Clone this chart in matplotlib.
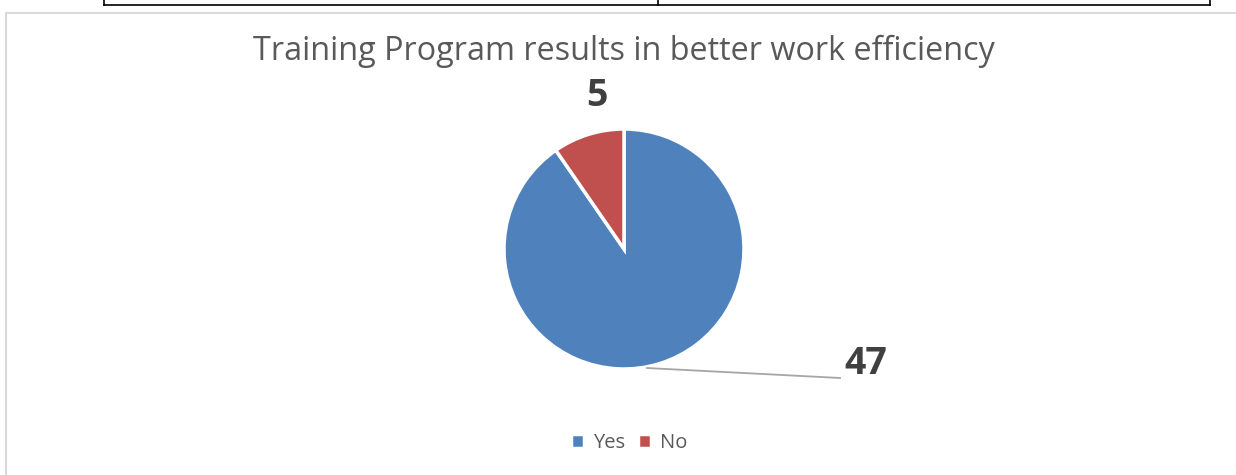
import matplotlib.pyplot as plt
from matplotlib.lines import Line2D

labels = ['Yes', 'No']
counts = [47, 5]
colors = ['#4f81bd', '#c0504d']

W, H = 1236, 475
fig = plt.figure(figsize=(W / 100, H / 100), dpi=100)

# table border fragment above the chart
def px_line(xs, ys, **kw):
    fig.add_artist(Line2D([x / W for x in xs], [1 - y / H for y in ys],
                          transform=fig.transFigure, **kw))

px_line([104, 1210], [5, 5], color='black', lw=1.2)
px_line([104, 104], [0, 5], color='black', lw=1.2)
px_line([658, 658], [0, 5], color='black', lw=1.2)
px_line([1210, 1210], [0, 5], color='black', lw=1.2)

# chart area border
px_line([6, 1236], [13, 13], color='#d9d9d9', lw=1.5)
px_line([6, 6], [13, 475], color='#d9d9d9', lw=1.5)

# pie: centre (624, 249), radius 120 px
r = 120
ax = fig.add_axes([(624 - r) / W, 1 - (249 + r) / H, 2 * r / W, 2 * r / H])
wedges, _ = ax.pie(counts, colors=colors, startangle=90, counterclock=False,
                   wedgeprops=dict(edgecolor='white', linewidth=2.5))
ax.set_xlim(-1, 1)
ax.set_ylim(-1, 1)
ax.set_aspect('equal')
ax.axis('off')

fig.text(624 / W, 1 - 51 / H, 'Training Program results in better work efficiency',
         ha='center', va='center', fontsize=23.3, color='#595959', family='Open Sans')

# data labels
fig.text(597 / W, 1 - 96 / H, str(counts[1]), ha='center', va='center',
         fontsize=27, fontweight='bold', color='#404040', family='Open Sans')
fig.text(866 / W, 1 - 364 / H, str(counts[0]), ha='center', va='center',
         fontsize=27, fontweight='bold', color='#404040', family='Open Sans')
px_line([647, 840], [368, 378], color='#a6a6a6', lw=1.3)

leg = fig.legend(wedges, labels, loc='center', bbox_to_anchor=(629 / W, 1 - 443 / H),
                 ncol=2, frameon=False, handlelength=0.65, handleheight=0.65,
                 handletextpad=0.45, columnspacing=0.65,
                 prop={'family': 'Open Sans', 'size': 14.5})
for t in leg.get_texts():
    t.set_color('#595959')

fig.savefig('out.png', dpi=100)
